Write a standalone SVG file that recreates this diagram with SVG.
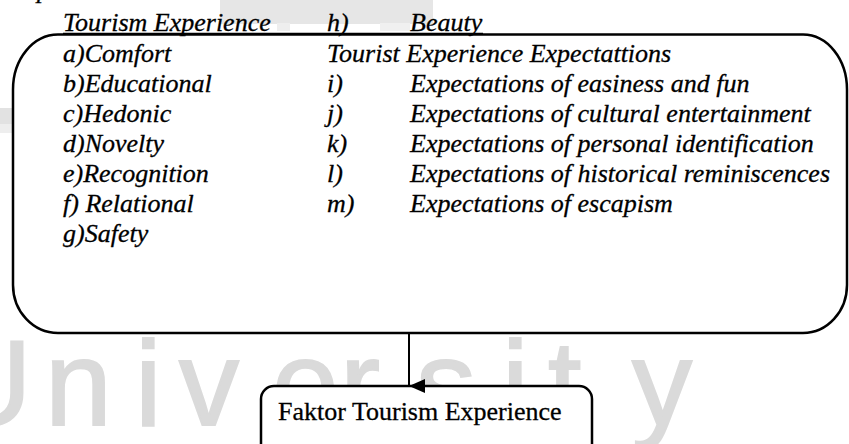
<svg xmlns="http://www.w3.org/2000/svg" width="849" height="444" viewBox="0 0 849 444">
  <style>
    .it { font-family: "Liberation Serif", "Times New Roman", serif; font-style: italic; font-size: 26px; fill: #000; stroke: #000; stroke-width: 0.3; }
    .rm { font-family: "Liberation Serif", "Times New Roman", serif; font-size: 26px; fill: #000; stroke: #000; stroke-width: 0.3; }
    .box { fill: #fff; stroke: #000; stroke-width: 2.5; }
    .wm { font-family: "Liberation Sans", Arial, sans-serif; font-size: 120px; fill: #dadada; stroke: #dadada; stroke-width: 2; }
    .conn { stroke: #000; stroke-width: 2; fill: none; }
  </style>
  <defs>
    <marker id="arrow" markerWidth="14" markerHeight="16" refX="7" refY="16" orient="auto" markerUnits="userSpaceOnUse" viewBox="0 0 14 16">
      <path d="M0,0 L14,0 L7,16 Z" fill="#000"/>
    </marker>
  </defs>
  <rect width="849" height="444" fill="#fff"/>
  <g id="watermark">
    <rect x="220" y="0" width="213" height="24" fill="#e6e6e6"/>
    <rect x="277" y="23" width="13" height="8" fill="#eeeeee"/>
    <rect x="380" y="23" width="30" height="8" fill="#f0f0f0"/>
    <rect x="0" y="108" width="12" height="16" fill="#e2e2e2"/>
    <rect x="0" y="124" width="12" height="9" fill="#eeeeee"/>
    <text class="wm" x="-55 45 135 179 272 340 416 502 548 632" y="425">University</text>
  </g>
  <g id="node-factors">
    <path class="box" d="M58,34.5 H803 A44 55 0 0 1 847 89.5 V285 A44 48 0 0 1 803 333 H58 A45 48 0 0 1 13 285 V89.5 A45 55 0 0 1 58 34.5 Z"/>
    <text class="it" x="37" y="-2">p</text>
    <text class="it" x="63" y="31">Tourism Experience</text>
    <text class="it" x="327" y="31">h)</text>
    <text class="it" x="410" y="31">Beauty</text>
    <line x1="63" y1="33.5" x2="483" y2="33.5" stroke="#000" stroke-width="1.3"/>
    <text class="it" x="63" y="62">a)Comfort</text>
    <text class="it" x="63" y="92">b)Educational</text>
    <text class="it" x="63" y="122">c)Hedonic</text>
    <text class="it" x="63" y="152">d)Novelty</text>
    <text class="it" x="63" y="182">e)Recognition</text>
    <text class="it" x="63" y="212">f) Relational</text>
    <text class="it" x="63" y="242">g)Safety</text>
    <text class="it" x="327" y="62">Tourist Experience Expectattions</text>
    <text class="it" x="327" y="92">i)</text>
    <text class="it" x="327" y="122">j)</text>
    <text class="it" x="327" y="152">k)</text>
    <text class="it" x="327" y="182">l)</text>
    <text class="it" x="327" y="212">m)</text>
    <text class="it" x="410" y="92">Expectations of easiness and fun</text>
    <text class="it" x="410" y="122">Expectations of cultural entertainment</text>
    <text class="it" x="410" y="152">Expectations of personal identification</text>
    <text class="it" x="410" y="182">Expectations of historical reminiscences</text>
    <text class="it" x="410" y="212">Expectations of escapism</text>
  </g>
  <g id="node-faktor">
    <rect class="box" x="261" y="386" width="331" height="80" rx="13" ry="13"/>
    <text class="rm" x="278" y="420">Faktor Tourism Experience</text>
  </g>
  <g id="connectors">
    <line class="conn" x1="409" y1="334" x2="409" y2="386" marker-end="url(#arrow)"/>
  </g>
</svg>
